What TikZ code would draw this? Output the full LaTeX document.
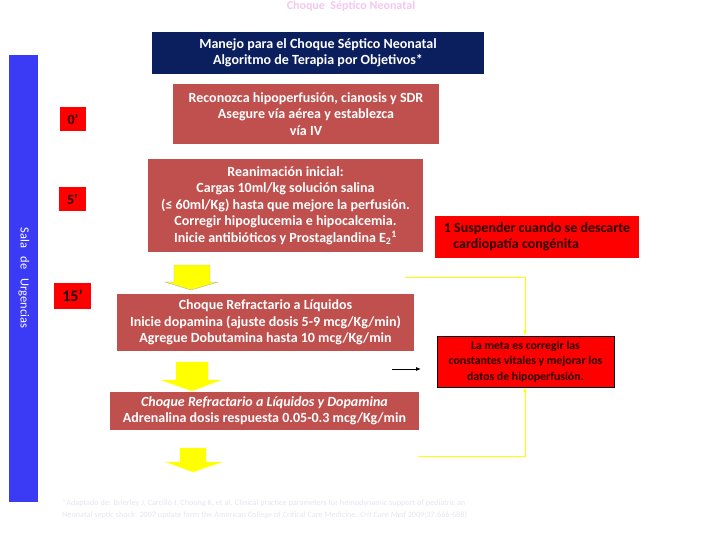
\documentclass[tikz,border=0pt]{standalone}
\usepackage{fontspec}
\setmainfont{Carlito}
\usetikzlibrary{arrows.meta}
\definecolor{salmon}{HTML}{C0504D}
\definecolor{navy}{HTML}{0B1F5E}
\definecolor{barblue}{HTML}{3B3BF5}
\definecolor{brightred}{HTML}{FF0000}
\definecolor{pinktitle}{HTML}{F4C6F0}
\definecolor{footgray}{HTML}{E4E4F0}
\definecolor{darktext}{HTML}{2A0505}
\definecolor{yel}{HTML}{FFFF00}
\tikzset{
  stepbox/.style={fill=salmon, text=white, align=center, inner sep=0pt,
    font=\fontsize{14}{16.5}\selectfont\bfseries},
  timebox/.style={fill=brightred, text=darktext, inner sep=0pt,
    font=\fontsize{14}{16}\selectfont\bfseries},
  yarrow/.style={fill=yel, draw=gray!60, line width=0.4pt},
  yline/.style={draw=yel, line width=1pt, -{Latex[length=5pt,width=4pt]}},
}
\begin{document}
\begin{tikzpicture}[x=1pt,y=-1pt]
\useasboundingbox (0,0) rectangle (728,546);
% title
\node[text=pinktitle, font=\fontsize{12}{14}\selectfont\bfseries] (title) at (351,6) {Choque\ \ Séptico Neonatal};
% navy header
\node[fill=navy, text=white, align=center, minimum width=332pt, minimum height=42pt, inner sep=0pt,
  font=\fontsize{14}{16}\selectfont\bfseries] (head) at (318,53)
  {Manejo para el Choque Séptico Neonatal\\Algoritmo de Terapia por Objetivos*};
% blue bar
\node[fill=barblue, minimum width=29pt, minimum height=447pt, inner sep=0pt] (bar) at (23.5,278.5) {};
\node[text=white, rotate=-90, font=\fontsize{12.5}{14}\selectfont] (sala) at (24,278) {Sala\ \ \ de\ \ \ Urgencias};
% time boxes
\node[timebox, minimum width=26pt, minimum height=24pt] (t0) at (73,119) {0’};
\node[timebox, minimum width=27pt, minimum height=24pt] (t5) at (72.5,199) {5’};
\node[timebox, minimum width=37pt, minimum height=26pt, font=\fontsize{16}{18}\selectfont\bfseries] (t15) at (72.5,296) {15’};
% steps
\node[stepbox, minimum width=266pt, minimum height=60pt] (s1) at (306,114)
  {Reconozca hipoperfusión, cianosis y SDR\\Asegure vía aérea y establezca\\vía IV};
\node[stepbox, minimum width=275pt, minimum height=93pt] (s2) at (285.5,205.5)
  {Reanimación inicial:\\Cargas 10ml/kg solución salina\\(≤ 60ml/Kg) hasta que mejore la perfusión.\\Corregir hipoglucemia e hipocalcemia.\\Inicie antibióticos y Prostaglandina E\textsubscript{2}\textsuperscript{1}};
\node[stepbox, minimum width=297pt, minimum height=57pt] (s3) at (265.5,322.5)
  {Choque Refractario a Líquidos\\Inicie dopamina (ajuste dosis 5-9 mcg/Kg/min)\\Agregue Dobutamina hasta 10 mcg/Kg/min};
\node[stepbox, minimum width=309pt, minimum height=38pt] (s4) at (264.5,411)
  {\itshape Choque Refractario a Líquidos y Dopamina\\Adrenalina dosis respuesta 0.05-0.3 mcg/Kg/min};
% yellow block arrows
\draw[yarrow] (174,265) -- (210,265) -- (210,282) -- (218,282) -- (191,290) -- (165,282) -- (174,282) -- cycle;
\draw[yarrow, draw=yel!80!white] (176,362) -- (208,362) -- (208,380) -- (221,380) -- (192,391) -- (161,380) -- (176,380) -- cycle;
\draw[yarrow, draw=yel!80!white] (180,448) -- (206,448) -- (206,462) -- (222,462) -- (193,472) -- (166,462) -- (180,462) -- cycle;
% note box
\node[fill=brightred, text=darktext, align=left, minimum width=204pt, minimum height=42pt, inner sep=0pt,
  font=\fontsize{14}{16}\selectfont\bfseries] (note) at (537,236.5)
  {1 Suspender cuando se descarte\\\ \ \ cardiopatía congénita};
% goal box
\node[fill=brightred, draw=black, line width=0.8pt, text=darktext, align=center, minimum width=177pt, minimum height=51pt, inner sep=0pt,
  font=\fontsize{11.8}{15.5}\selectfont\bfseries] (meta) at (525.5,361.5)
  {La meta es corregir las\\constantes vitales y mejorar los\\datos de hipoperfusión.};
% black arrow
\coordinate (ba1) at (392,369);
\coordinate (ba2) at (421,369);
\draw[-{Latex[length=5pt,width=4pt]}, line width=0.8pt] (ba1) -- (ba2);
% yellow feedback lines
\coordinate (yt) at (405,277);
\coordinate (yb) at (418,456);
\draw[yline] (yt) -- (525,277) -- (meta.north -| 525,0);
\draw[yline] (yb) -- (525,456) -- (meta.south -| 525,0);
% footnote
\node[text=footgray, align=left, anchor=north west, inner sep=0pt, font=\fontsize{8.2}{12.5}\selectfont] (foot) at (62,499)
  {*Adaptado de: Brierley J, Carcillo J, Choong K, et al. Clinical practice parameters for hemodynamic support of pediatric an\\Neonatal septic shock: 2007 update form the American College of Critical Care Medicine. \textit{Crit Care Med} 2009;37:666-688)};
\end{tikzpicture}
\end{document}
